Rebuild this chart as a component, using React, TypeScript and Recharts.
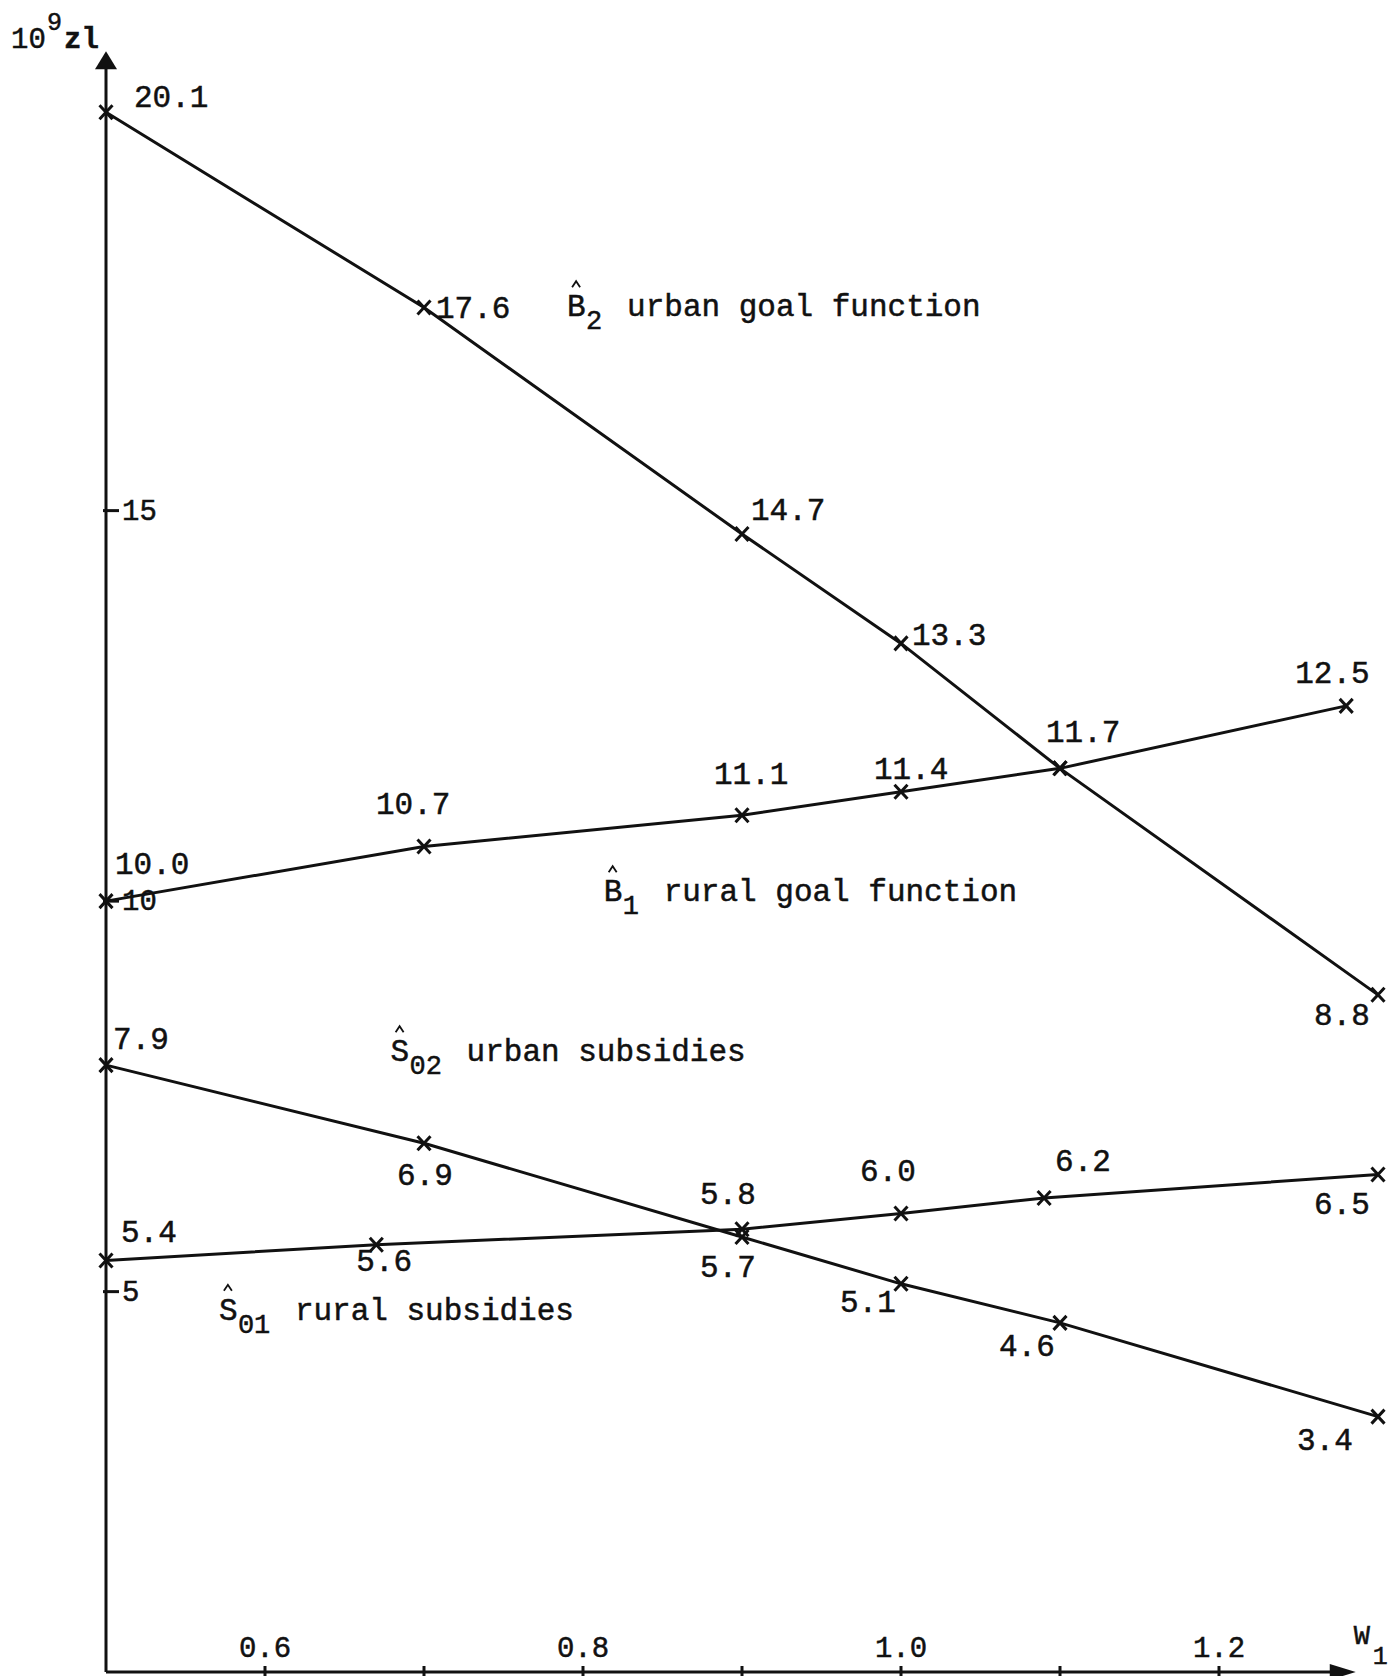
import React from 'react';
import { LineChart, Line, XAxis, YAxis, ReferenceLine, ReferenceDot } from 'recharts';

// weight w1 for each computed point, per curve
const b2W = [0.5, 0.7, 0.9, 1.0, 1.1, 1.3];
const b1W = [0.5, 0.7, 0.9, 1.0, 1.1, 1.28];
const s02W = [0.5, 0.7, 0.9, 1.0, 1.1, 1.3];
const s01W = [0.5, 0.67, 0.9, 1.0, 1.09, 1.3];

// values in 10^9 zl
const b2Values = [20.1, 17.6, 14.7, 13.3, 11.7, 8.8];
const b1Values = [10.0, 10.7, 11.1, 11.4, 11.7, 12.5];
const s02Values = [7.9, 6.9, 5.7, 5.1, 4.6, 3.4];
const s01Values = [5.4, 5.6, 5.8, 6.0, 6.2, 6.5];

const xTicks = [0.6, 0.7, 0.8, 0.9, 1.0, 1.1, 1.2];
const xTickLabels = ['0.6', '', '0.8', '', '1.0', '', '1.2'];
const yTicks = [5, 10, 15];

// where the value label sits relative to its marker: [dx to left edge, dy to baseline]
type Offset = [number, number] | null;
const b2LabelPos: Offset[] = [[28, -5], [12, 10], [9, -14], [11, 2], null, [-64, 30]];
const b1LabelPos: Offset[] = [[9, -27], [-48, -32], [-28, -31], [-27, -13], [-14, -26], [-51, -23]];
const s02LabelPos: Offset[] = [[7, -16], [-27, 42], [-42, 40], [-61, 28], [-61, 33], [-81, 33]];
const s01LabelPos: Offset[] = [[15, -18], [-20, 26], [-42, -25], [-41, -33], [11, -27], [-64, 40]];

const X_MIN = 0.5;
const X_MAX = 1.3;
const Y_FLOOR = 0.13;
const Y_TOP = 21;
const Y_ARROW = 20.88;
const X_ARROW = 1.286;

const FONT = '"Liberation Mono", "DejaVu Sans Mono", monospace';
const INK = '#111';
const textStyle = { fontFamily: FONT, fill: INK, stroke: INK, strokeWidth: 0.5 };

const toPoints = (ws: number[], vs: number[]) => ws.map((w, i) => ({ w, v: vs[i] }));

const makeDot = (offsets: Offset[]) => (props: any) => {
  const { cx, cy, index, payload } = props;
  const off = offsets[index];
  return (
    <g key={`m-${index}`}>
      <path
        d={`M${cx - 6.5},${cy - 7}L${cx + 6.5},${cy + 7}M${cx + 6.5},${cy - 7}L${cx - 6.5},${cy + 7}`}
        stroke={INK}
        strokeWidth={3}
      />
      {off && (
        <text x={cx + off[0]} y={cy + off[1]} fontSize={31} {...textStyle}>
          {payload.v.toFixed(1)}
        </text>
      )}
    </g>
  );
};

const XTick = (props: any) => {
  const { x, y, index } = props;
  return (
    <g>
      <line x1={x} x2={x} y1={y - 6} y2={y + 4} stroke={INK} strokeWidth={3} />
      <text x={x} y={y - 15} textAnchor="middle" fontSize={29} {...textStyle}>
        {xTickLabels[index]}
      </text>
    </g>
  );
};

const YTick = (props: any) => {
  const { x, y, payload } = props;
  return (
    <g>
      <line x1={x - 3} x2={x + 13} y1={y} y2={y} stroke={INK} strokeWidth={3} />
      <text x={x + 16} y={y + 9} fontSize={29} {...textStyle}>
        {payload.value}
      </text>
    </g>
  );
};

// curve name such as B^_2 urban goal function; (cx, cy) = left edge / baseline of the symbol
const SeriesName = ({ cx, cy, sym, sub, text }: any) => {
  const c = cx + 9;
  return (
    <g>
      <text x={cx} y={cy} fontSize={31} {...textStyle}>{sym}</text>
      <path
        d={`M${c - 4},${cy - 29}L${c},${cy - 35}L${c + 4},${cy - 29}`}
        fill="none"
        stroke={INK}
        strokeWidth={1.8}
      />
      <text x={cx + 19} y={cy + 13} fontSize={27} {...textStyle}>{sub}</text>
      <text x={cx + 44 + sub.length * 16} y={cy} fontSize={31} {...textStyle}>{text}</text>
    </g>
  );
};

const seriesNames = [
  { w: 0.79, v: 17.49, sym: 'B', sub: '2', text: 'urban goal function' },
  { w: 0.813, v: 10.0, sym: 'B', sub: '1', text: 'rural goal function' },
  { w: 0.679, v: 7.95, sym: 'S', sub: '02', text: 'urban subsidies' },
  { w: 0.571, v: 4.64, sym: 'S', sub: '01', text: 'rural subsidies' },
];

export default function App() {
  return (
    <div style={{ width: 1395, height: 1676, background: '#fff' }}>
      <style>{'body{margin:0}'}</style>
      <LineChart width={1395} height={1676} margin={{ top: 42, right: 17, bottom: 3, left: 105 }}>
        <XAxis
          dataKey="w"
          type="number"
          domain={[X_MIN, X_MAX]}
          ticks={xTicks}
          interval={0}
          height={1}
          axisLine={false}
          tickLine={false}
          tickSize={0}
          tickMargin={0}
          tick={(p: any) => <XTick {...p} />}
        />
        <YAxis
          type="number"
          domain={[Y_FLOOR, Y_TOP]}
          ticks={yTicks}
          interval={0}
          width={1}
          axisLine={false}
          tickLine={false}
          tickSize={0}
          tickMargin={0}
          tick={(p: any) => <YTick {...p} />}
        />

        {/* axes with arrowheads */}
        <ReferenceLine
          segment={[{ x: X_MIN, y: Y_FLOOR }, { x: X_MIN, y: 20.7 }]}
          stroke={INK}
          strokeWidth={3}
        />
        <ReferenceLine
          segment={[{ x: X_MIN, y: Y_FLOOR }, { x: 1.27, y: Y_FLOOR }]}
          stroke={INK}
          strokeWidth={3}
        />
        <ReferenceDot
          x={X_MIN}
          y={Y_ARROW}
          ifOverflow="visible"
          shape={(p: any) => (
            <g>
              <path d={`M${p.cx},${p.cy}L${p.cx - 11},${p.cy + 18}L${p.cx + 11},${p.cy + 18}Z`} fill={INK} />
              <text x={p.cx - 95} y={p.cy - 3} fontSize={29} {...textStyle}>10</text>
              <text x={p.cx - 59} y={p.cy - 21} fontSize={25} {...textStyle}>9</text>
              <text x={p.cx - 42} y={p.cy - 3} fontSize={29} fontWeight="bold" {...textStyle}>zl</text>
            </g>
          )}
        />
        <ReferenceDot
          x={X_ARROW}
          y={Y_FLOOR}
          ifOverflow="visible"
          shape={(p: any) => (
            <g>
              <path d={`M${p.cx},${p.cy}L${p.cx - 26},${p.cy - 8}L${p.cx - 26},${p.cy + 8}Z`} fill={INK} />
              <text x={p.cx - 2} y={p.cy - 28} fontSize={27} {...textStyle}>W</text>
              <text x={p.cx + 17} y={p.cy - 8} fontSize={25} {...textStyle}>1</text>
            </g>
          )}
        />

        {seriesNames.map((s) => (
          <ReferenceDot
            key={s.text}
            x={s.w}
            y={s.v}
            ifOverflow="visible"
            shape={(p: any) => <SeriesName cx={p.cx} cy={p.cy} sym={s.sym} sub={s.sub} text={s.text} />}
          />
        ))}

        <Line
          data={toPoints(b2W, b2Values)}
          dataKey="v"
          type="linear"
          stroke={INK}
          strokeWidth={3}
          dot={makeDot(b2LabelPos)}
          activeDot={false}
          isAnimationActive={false}
        />
        <Line
          data={toPoints(b1W, b1Values)}
          dataKey="v"
          type="linear"
          stroke={INK}
          strokeWidth={3}
          dot={makeDot(b1LabelPos)}
          activeDot={false}
          isAnimationActive={false}
        />
        <Line
          data={toPoints(s02W, s02Values)}
          dataKey="v"
          type="linear"
          stroke={INK}
          strokeWidth={3}
          dot={makeDot(s02LabelPos)}
          activeDot={false}
          isAnimationActive={false}
        />
        <Line
          data={toPoints(s01W, s01Values)}
          dataKey="v"
          type="linear"
          stroke={INK}
          strokeWidth={3}
          dot={makeDot(s01LabelPos)}
          activeDot={false}
          isAnimationActive={false}
        />
      </LineChart>
    </div>
  );
}
